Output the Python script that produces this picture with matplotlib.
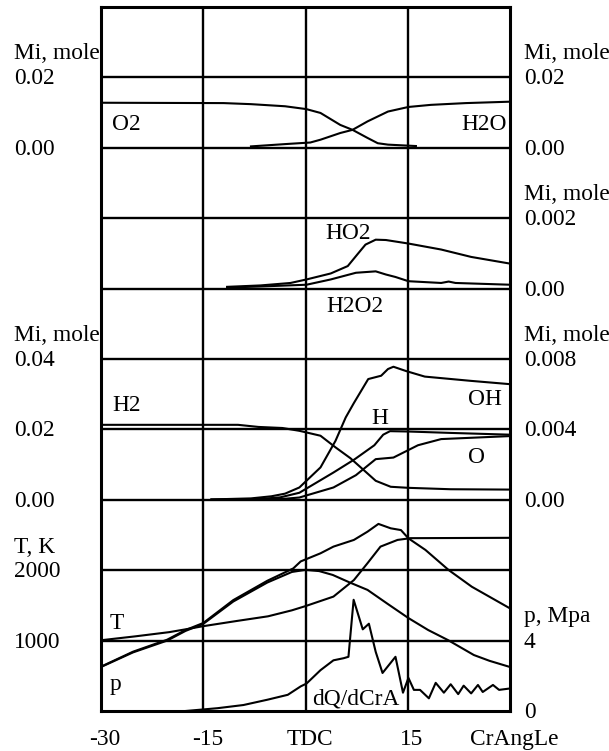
import numpy as np
import matplotlib
matplotlib.use('Agg')
import matplotlib.pyplot as plt

plt.rcParams['font.family'] = ['Liberation Serif', 'DejaVu Serif']
plt.rcParams['font.size'] = 16.8

# crank angle in degrees, TDC = 0

# O2 and H2O, mole
o2_deg = [-30, -12, -8, -3, 0.1, 2.2, 5.1, 6.9, 9.1, 10.6, 12.1, 16.2]
o2_val = [0.0128, 0.0127, 0.0124, 0.0118, 0.0110, 0.0099, 0.0065, 0.0051, 0.0028, 0.0013, 0.0009, 0.0005]
h2o_deg = [-8.0, -2.6, 0.7, 2.2, 5.1, 6.9, 9.1, 12.1, 15.1, 18.4, 23.5, 30]
h2o_val = [0.0004, 0.0011, 0.0015, 0.0023, 0.0042, 0.0051, 0.0075, 0.0103, 0.0116, 0.0122, 0.0127, 0.0131]

# HO2 and H2O2, mole
ho2_deg = [-11.5, -6.6, -2.2, 0.15, 3.7, 6.2, 7.6, 8.8, 10.3, 11.8, 15.1, 19.9, 24.3, 30]
ho2_val = [0.00005, 0.00009, 0.00016, 0.00026, 0.00043, 0.00064, 0.00097, 0.00125, 0.00139,
           0.00138, 0.00128, 0.00111, 0.00090, 0.00071]
h2o2_deg = [-11.5, -6.6, 0.15, 3.7, 7.4, 10.3, 11.8, 13.2, 15.1, 19.9, 21.0, 22.0, 30]
h2o2_val = [0.00003, 0.00006, 0.00011, 0.00026, 0.00045, 0.00049, 0.00040, 0.00033, 0.00021,
            0.00016, 0.00020, 0.00016, 0.00011]

# H2 (left scale) and OH, H, O (right scale), mole
h2_deg = [-30, -9.9, -6.9, -3.4, -0.9, 2.2, 4.4, 6.6, 8.8, 10.3, 12.5, 15.1, 21.3, 30]
h2_val = [0.0213, 0.0213, 0.0207, 0.0204, 0.0196, 0.0182, 0.0149, 0.0118, 0.0080, 0.0054,
          0.0037, 0.0034, 0.0030, 0.0029]
oh_deg = [-13.8, -8, -5, -3, -0.9, 2.2, 4.4, 5.9, 7.1, 9.2, 11.1, 12.1, 12.9, 14.8, 17.5, 24.2, 30]
oh_val = [0.00002, 0.00008, 0.0002, 0.00035, 0.0007, 0.00184, 0.00335, 0.00468, 0.00550, 0.00686,
          0.00705, 0.00743, 0.00756, 0.00731, 0.00700, 0.00676, 0.00657]
h_deg = [-13.8, -6.6, -3.7, -0.9, 4.1, 7.2, 10.1, 11.4, 12.4, 15.1, 21.3, 30]
h_val = [0.00001, 0.00005, 0.00014, 0.0004, 0.00155, 0.0023, 0.0031, 0.0037, 0.0039, 0.00388,
         0.0038, 0.0037]
o_deg = [-13.8, -6.6, -3, -0.9, 4.1, 7.4, 10.3, 12.9, 16.5, 19.9, 30]
o_val = [0.0, 0.00002, 0.00006, 0.00013, 0.0007, 0.0014, 0.00231, 0.0024, 0.0031, 0.00345, 0.00362]

# temperature, K
t_deg = [-30, -25, -20, -17.6, -15, -10, -5.5, -2, 0, 4.1, 7.1, 9.1, 11.0, 13.5, 15.4, 30]
t_val = [1005, 1060, 1120, 1160, 1205, 1280, 1345, 1430, 1490, 1625, 1860, 2100, 2335, 2430, 2455, 2460]

# cylinder pressure, MPa (firing and motored)
p_deg = [-30, -25.3, -20.3, -17.6, -15, -10.6, -5.6, -1.8, -0.7, 2.2, 4.1, 7.1, 9.1, 10.7,
         12.5, 14.0, 15.1, 17.6, 21.0, 24.4, 30]
p_val = [2.52, 3.37, 4.05, 4.6, 5.0, 6.3, 7.4, 8.1, 8.5, 8.96, 9.34, 9.72, 10.19, 10.63,
         10.38, 10.28, 9.81, 9.15, 8.01, 7.06, 5.83]
pm_deg = [-30, -25.3, -20.3, -17.6, -15, -10.6, -5.6, -2, 0, 2, 4, 6.5, 9.1, 12, 15.1, 18, 20.9,
          24.7, 27, 30]
pm_val = [2.5, 3.33, 4.0, 4.55, 4.95, 6.22, 7.3, 7.9, 8.02, 7.95, 7.73, 7.3, 6.88, 6.1, 5.28,
          4.6, 4.03, 3.18, 2.85, 2.5]

# heat release rate, relative units
dq_deg = [-17.6, -12.9, -9.1, -5.6, -2.6, -0.7, 0.15, 2.2, 4.1, 5.6, 6.3, 7.06, 8.4, 9.3, 10.3,
          11.3, 13.2, 14.3, 15.1, 15.9, 16.8, 18.1, 19.1, 20.3, 21.3, 22.4, 23.2, 24.3, 25.3,
          26.0, 27.5, 28.4, 30]
dq_val = [0, 0.04, 0.085, 0.16, 0.23, 0.35, 0.39, 0.58, 0.72, 0.75, 0.77, 1.58, 1.16, 1.24, 0.84,
          0.54, 0.77, 0.26, 0.47, 0.30, 0.30, 0.18, 0.40, 0.26, 0.38, 0.24, 0.36, 0.25, 0.37,
          0.27, 0.37, 0.30, 0.32]

x_ticks = [-30, -15, 0, 15, 30]
x_labels = ['-30', '-15', 'TDC', '15', 'CrAngLe']


def band(values, zero, step):
    # chart is one grid of 10 rows; each strip has its own zero row and value per row
    return zero + np.asarray(values) / step


fig = plt.figure(figsize=(6.09, 7.51), dpi=100)
ax = fig.add_axes([101 / 609, 40 / 751, 409 / 609, 704 / 751])

lw = 1.5
ax.plot(o2_deg, band(o2_val, 8, 0.02), color='black', lw=lw)
ax.plot(h2o_deg, band(h2o_val, 8, 0.02), color='black', lw=lw)
ax.plot(ho2_deg, band(ho2_val, 6, 0.002), color='black', lw=lw)
ax.plot(h2o2_deg, band(h2o2_val, 6, 0.002), color='black', lw=lw)
ax.plot(h2_deg, band(h2_val, 3, 0.02), color='black', lw=lw)
ax.plot(oh_deg, band(oh_val, 3, 0.004), color='black', lw=lw)
ax.plot(h_deg, band(h_val, 3, 0.004), color='black', lw=lw)
ax.plot(o_deg, band(o_val, 3, 0.004), color='black', lw=lw)
ax.plot(t_deg, band(t_val, 0, 1000), color='black', lw=lw)
ax.plot(p_deg, band(p_val, 0, 4), color='black', lw=lw)
ax.plot(pm_deg, band(pm_val, 0, 4), color='black', lw=lw)
ax.plot(dq_deg, dq_val, color='black', lw=lw)

ax.set_xlim(-30, 30)
ax.set_ylim(0, 10)
for x in [-15, 0, 15]:
    ax.axvline(x, color='black', lw=1.7, zorder=1)
for y in range(1, 10):
    ax.axhline(y, color='black', lw=1.7, zorder=1)
for s in ax.spines.values():
    s.set_linewidth(2.2)
ax.set_xticks([])
ax.set_yticks([])

# scale labels, left and right
xl, xr = -42.8, 32.0
left_labels = [('Mi, mole', 9.36), ('0.02', 9), ('0.00', 8),
               ('Mi, mole', 5.36), ('0.04', 5), ('0.02', 4), ('0.00', 3),
               ('T, K', 2.34), ('2000', 2), ('1000', 1)]
right_labels = [('Mi, mole', 9.36), ('0.02', 9), ('0.00', 8),
                ('Mi, mole', 7.36), ('0.002', 7), ('0.00', 6),
                ('Mi, mole', 5.36), ('0.008', 5), ('0.004', 4), ('0.00', 3),
                ('p, Mpa', 1.36), ('4', 1), ('0', 0)]
for txt, y in left_labels:
    ax.text(xl, y - 0.02, txt, ha='left', va='center')
for txt, y in right_labels:
    ax.text(xr, y - 0.02, txt, ha='left', va='center')

# crank angle labels under the frame
for x, txt in zip(x_ticks, x_labels):
    ax.text(x + 0.6, -0.4, txt, ha='center', va='center')

# curve names
ax.text(-28.4, 8.33, 'O2', va='center')
ax.text(29.6, 8.33, 'H2O', ha='right', va='center')
ax.text(2.9, 6.78, 'HO2', va='center')
ax.text(3.1, 5.75, 'H2O2', va='center')
ax.text(-28.4, 4.34, 'H2', va='center')
ax.text(23.8, 4.43, 'OH', va='center')
ax.text(9.6, 4.16, 'H', va='center')
ax.text(23.8, 3.60, 'O', va='center')
ax.text(-28.7, 1.24, 'T', va='center')
ax.text(-28.7, 0.38, 'p', va='center')
ax.text(0.9, 0.17, 'dQ/dCrA', va='center')

plt.savefig('out.png', dpi=100)
